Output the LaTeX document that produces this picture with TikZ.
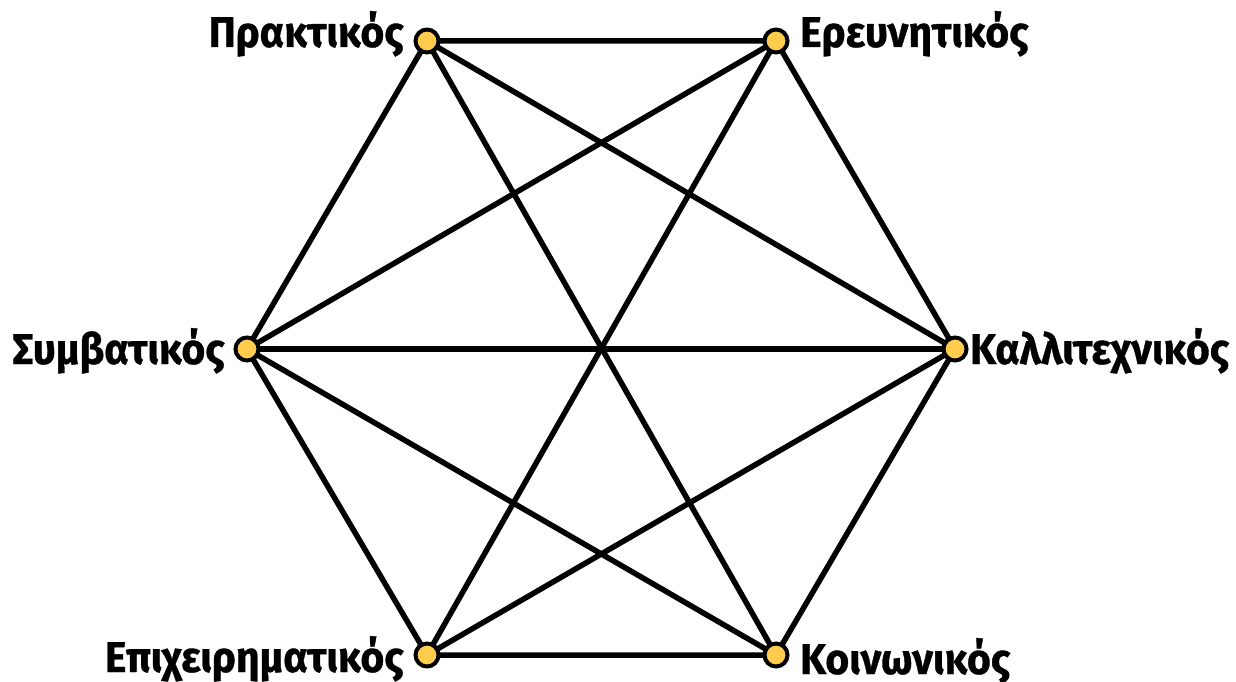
\documentclass[tikz,border=0pt]{standalone}
\usepackage{fontspec}
\newfontfamily\lblfont{Fira Sans}[FakeStretch=0.95,FakeBold=0.8,UprightFont=* Bold]
\definecolor{nodeyellow}{HTML}{FFCC4D}
\begin{document}
\begin{tikzpicture}[x=1pt,y=-1pt,
  vtx/.style={circle,draw=black,fill=nodeyellow,line width=4pt,minimum size=23pt,inner sep=0pt},
  edge/.style={line width=5.5pt,black},
  lbl/.style={font=\lblfont\fontsize{43}{43}\selectfont,inner sep=0pt}]
\useasboundingbox (0,0) rectangle (1236,682);
\coordinate (P) at (427,41);
\coordinate (E) at (776,41);
\coordinate (K) at (955,349);
\coordinate (Ko) at (776,655);
\coordinate (Ep) at (427,655);
\coordinate (S) at (247,349);
\draw[edge] (P) -- (E) -- (K) -- (Ko) -- (Ep) -- (S) -- cycle;
\draw[edge] (P) -- (K);
\draw[edge] (P) -- (Ko);
\draw[edge] (S) -- (E);
\draw[edge] (S) -- (K);
\draw[edge] (S) -- (Ko);
\draw[edge] (Ep) -- (E);
\draw[edge] (Ep) -- (K);
\node[vtx] (nP) at (P) {};
\node[vtx] (nE) at (E) {};
\node[vtx] (nK) at (K) {};
\node[vtx] (nKo) at (Ko) {};
\node[vtx] (nEp) at (Ep) {};
\node[vtx] (nS) at (S) {};
\node[lbl,anchor=base east] (tP) at (404,47) {Πρακτικός};
\node[lbl,anchor=base west] (tE) at (800,47) {Ερευνητικός};
\node[lbl,anchor=base west] (tK) at (970,364) {Καλλιτεχνικός};
\node[lbl,anchor=base east] (tS) at (225,364) {Συμβατικός};
\node[lbl,anchor=base east] (tEp) at (404,672) {Επιχειρηματικός};
\node[lbl,anchor=base west] (tKo) at (800,674) {Κοινωνικός};
\end{tikzpicture}
\end{document}
